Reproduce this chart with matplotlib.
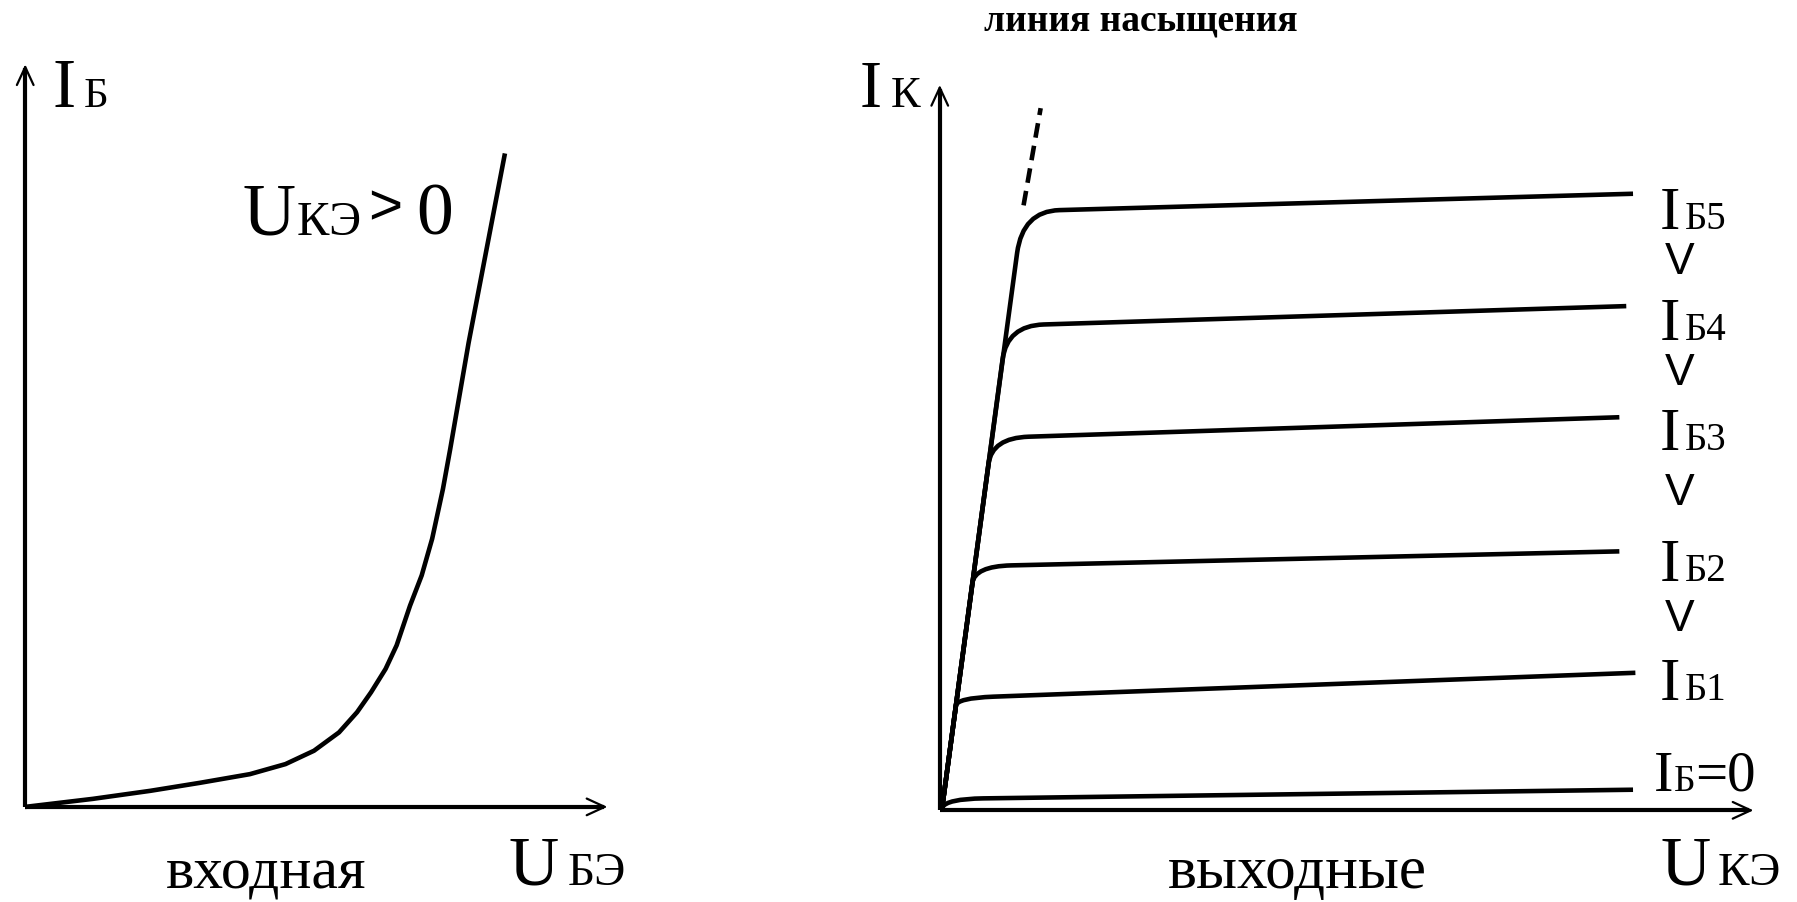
import matplotlib
matplotlib.use("Agg")
import matplotlib.pyplot as plt
from matplotlib.path import Path
from matplotlib.patches import PathPatch

W, H = 1797, 903
SW, SH = 1568, 788  # reference layout grid used for placement

# ---------------- data ----------------
# input characteristic  I_B(U_BE), arbitrary units (axis arrow = 1.0)
u_be = [0, .116, .2146, .300, .386, .447, .496, .539, .570, .594, .619, .638,
        .661, .681, .699, .7175, .730, .7616, .824]
i_b = [0, .0108, .0216, .0324, .0441, .0576, .0756, .1003, .1275, .1543, .1858,
       .2176, .2710, .3117, .3611, .4281, .4819, .625, .880]

# output characteristics I_C(U_CE): knee point and end point for each I_B
out_labels = ["5", "4", "3", "2", "1", "=0"]
knee_u = [0.102, 0.0828, 0.0642, 0.0428, 0.0210, 0.0085]
knee_i = [0.826, 0.6682, 0.5134, 0.3365, 0.1548, 0.0158]
end_u = [0.852, 0.8437, 0.8352, 0.8352, 0.8549, 0.852]
end_i = [0.850, 0.6951, 0.5419, 0.3570, 0.1896, 0.0284]

# saturation (dashed) line
sat_u = [0.103, 0.124]
sat_i = [0.834, 0.968]

plt.rcParams['font.family'] = ['Liberation Serif', 'DejaVu Serif']

fig = plt.figure(figsize=(W / 100, H / 100), dpi=100)
fig.patch.set_facecolor('white')


def fx(x):
    return x / SW


def fy(y):
    return 1 - y / SH


LW = 3.3
AX_LW = 3.0
HEAD = '->,head_length=1.3,head_width=0.6'


def draw_axes(ax):
    ax.set_xlim(0, 1)
    ax.set_ylim(0, 1)
    ax.axis('off')
    ax.plot([0, 0.995], [0, 0], color='black', lw=AX_LW, solid_capstyle='butt', clip_on=False)
    ax.plot([0, 0], [0, 0.995], color='black', lw=AX_LW, solid_capstyle='butt', clip_on=False)
    for tip, tail in [((1.0, 0), (0.9, 0)), ((0, 1.0), (0, 0.9))]:
        ax.annotate('', xy=tip, xytext=tail,
                    arrowprops=dict(arrowstyle=HEAD, lw=1.6, color='black',
                                    shrinkA=0, shrinkB=0), annotation_clip=False)


# ---------------- left panel ----------------
axL = fig.add_axes([fx(22), fy(705), fx(530) - fx(22), fy(57) - fy(705)])
draw_axes(axL)
axL.plot(u_be, i_b, color='black', lw=LW, solid_capstyle='butt',
         solid_joinstyle='round', clip_on=False)

# ---------------- right panel ----------------
axR = fig.add_axes([fx(820), fy(708), fx(1530) - fx(820), fy(75) - fy(708)])
draw_axes(axR)

x0, y0 = 0.003, 0.004
for ku, ki, eu, ei in zip(knee_u, knee_i, end_u, end_i):
    f = 0.93 if ki > 0.1 else 0.0
    b1 = (x0 + (ku - x0) * f, y0 + (ki - y0) * f)
    slope = (ei - ki) / (eu - ku)
    du = 0.045
    b2 = (ku + du, ki + slope * du)
    verts = [(x0, y0), b1, (ku, ki), b2, (eu, ei)]
    codes = [Path.MOVETO, Path.LINETO, Path.CURVE3, Path.CURVE3, Path.LINETO]
    axR.add_patch(PathPatch(Path(verts, codes), fill=False, lw=LW,
                            edgecolor='black', capstyle='butt', joinstyle='round',
                            clip_on=False))

axR.plot(sat_u, sat_i, color='black', lw=LW, linestyle=(0, (3.2, 1.8)),
         solid_capstyle='butt', clip_on=False)

# ---------------- texts ----------------


def txt(x, y, s, size, **kw):
    fig.text(fx(x), fy(y), s, fontsize=size, ha=kw.pop('ha', 'left'),
             va='baseline', **kw)


# left panel
txt(46, 93, 'I', 50)
txt(73, 93, 'Б', 31)
txt(212, 205, 'U', 53)
txt(259, 205, 'КЭ', 35)
txt(321, 196, '>', 42, family=['Liberation Sans'])
txt(363, 205, '0', 53)
txt(232, 775, 'входная', 43, ha='center')
txt(444, 772, 'U', 50)
txt(495, 772, 'БЭ', 34)

# right panel
txt(995, 27, 'линия насыщения', 27, ha='center', weight='bold')
txt(750, 93, 'I', 48)
txt(777, 93, 'К', 32)

lab_y = [200, 297, 393, 507, 611]
v_y = [239, 336, 441, 551]
for lbl, yy in zip(out_labels[:5], lab_y):
    txt(1448, yy, 'I', 44)
    txt(1470, yy, 'Б' + lbl, 28)
for yy in v_y:
    txt(1466, yy, 'V', 32, ha='center', family=['Liberation Sans'])
txt(1443, 690, 'I', 42)
txt(1461, 690, 'Б', 27)
txt(1479, 690, '=0', 41)

txt(1132, 775, 'выходные', 44, ha='center')
txt(1449, 772, 'U', 50)
txt(1499, 772, 'КЭ', 34)

fig.savefig('out.png', dpi=100, facecolor='white')
